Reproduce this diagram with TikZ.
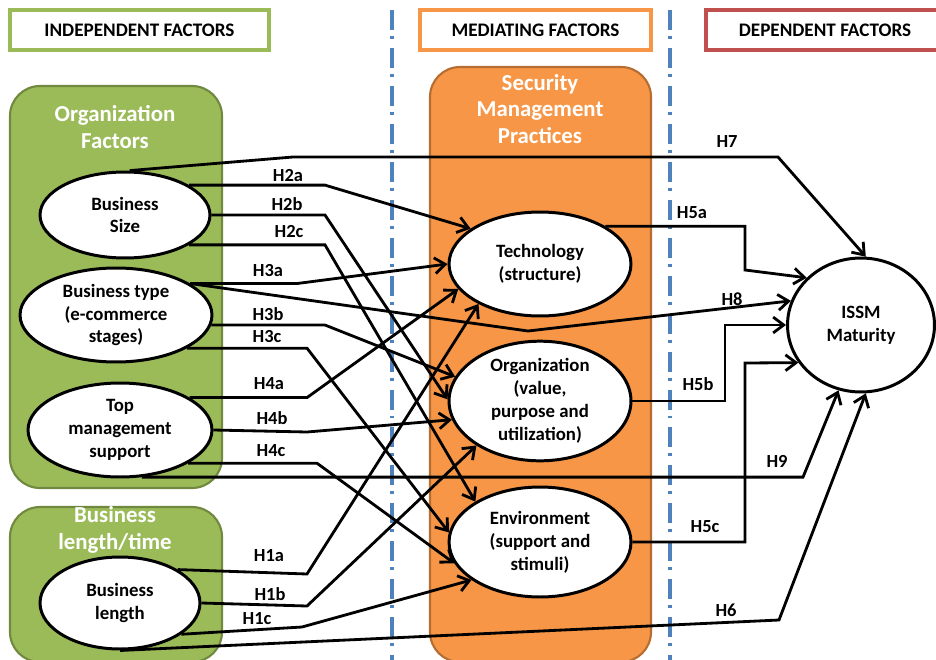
\documentclass[tikz,border=0pt]{standalone}
\usepackage{fontspec}
\setmainfont{Carlito}
\usetikzlibrary{arrows.meta,shapes.geometric}
\definecolor{grpgreen}{HTML}{9BBB59}
\definecolor{grpgreenedge}{HTML}{71893F}
\definecolor{grporange}{HTML}{F79646}
\definecolor{grporangeedge}{HTML}{B66D31}
\definecolor{hdrred}{HTML}{C0504D}
\definecolor{sepblue}{HTML}{4F81BD}

\begin{document}
\begin{tikzpicture}[x=0.02cm,y=-0.02cm,
  header/.style={draw=#1, line width=1.8pt, fill=white, minimum height=0.8cm, inner sep=0pt,
    font=\fontsize{10.9pt}{12pt}\selectfont\bfseries},
  greenbox/.style={fill=grpgreen, draw=grpgreenedge, line width=1.2pt, rounded corners=0.6cm},
  orangebox/.style={fill=grporange, draw=grporangeedge, line width=1.2pt, rounded corners=0.6cm},
  grouptitle/.style={text=white, align=center, font=\fontsize{13pt}{15pt}\selectfont\bfseries},
  factor/.style={ellipse, draw, line width=1.7pt, fill=white, inner sep=0pt, align=center,
    font=\fontsize{10.7pt}{13pt}\selectfont\bfseries},
  link/.style={line width=1.6pt, -{Straight Barb[length=6pt,width=9pt]}},
  hyp/.style={font=\fontsize{10.5pt}{12pt}\selectfont\bfseries},
  divider/.style={sepblue, line width=2pt, dash pattern=on 11.4pt off 3.4pt on 1.7pt off 5.1pt}
]
\useasboundingbox (0,0) rectangle (936,659);
\fill[white] (0,0) rectangle (936,659);

% column dividers
\coordinate (d1top) at (392,10); \coordinate (d1bot) at (392,662);
\coordinate (d2top) at (670,10); \coordinate (d2bot) at (670,662);
\draw[divider] (d1top) -- (d1bot);
\draw[divider] (d2top) -- (d2bot);

% column headers
\node[header=grpgreen, minimum width=5.18cm] (hind) at (139.5,30) {INDEPENDENT FACTORS};
\node[header=grporange, minimum width=4.62cm] (hmed) at (535.5,30) {MEDIATING FACTORS};
\node[header=hdrred, minimum width=4.76cm] (hdep) at (825,30) {DEPENDENT FACTORS};

% group panels
\path[greenbox] (10,86) rectangle (222,488);
\path[greenbox] (10,507) rectangle (222,662);
\path[orangebox] (430,67) rectangle (651,662);
\node[grouptitle] (torg) at (115,127) {Organization\\Factors};
\node[grouptitle] (tlen) at (115,530) {Business\\length/time};
\node[grouptitle] (tsec) at (540,109) {Security\\Management\\Practices};

% factors
\node[factor, minimum width=3.4cm, minimum height=1.72cm] (size) at (125,215) {Business\\Size};
\node[factor, minimum width=3.84cm, minimum height=1.88cm] (type) at (116,315) {Business type\\(e-commerce\\stages)};
\node[factor, minimum width=3.68cm, minimum height=1.88cm] (tm) at (120,430) {Top\\management\\support};
\node[factor, minimum width=3.2cm, minimum height=1.84cm] (len) at (120,603) {Business\\length};
\node[factor, minimum width=3.64cm, minimum height=2.08cm] (tech) at (540,264) {Technology\\(structure)};
\node[factor, minimum width=3.64cm, minimum height=2.28cm] (org) at (540,401) {Organization\\(value,\\purpose and\\utilization)};
\node[factor, minimum width=3.64cm, minimum height=2.2cm] (env) at (540,542) {Environment\\(support and\\stimuli)};
\node[factor, minimum width=2.94cm, minimum height=2.68cm] (issm) at (861,325) {ISSM\\Maturity};

% bend points
\coordinate (b297) at (297,0);
\coordinate (b307) at (307,0);
\coordinate (b317) at (317,0);
\coordinate (b325) at (325,0);
\coordinate (h7a) at (293,157);
\coordinate (h7b) at (778,157);
\coordinate (h8) at (528,331);
\coordinate (k4b) at (307,432);
\coordinate (h9) at (803,0);
\coordinate (k1a) at (307,574);
\coordinate (k1b) at (307,606);
\coordinate (k1c) at (302,627);
\coordinate (k6) at (779,620);
\coordinate (h5a) at (745,270);
\coordinate (h5b) at (725,0);
\coordinate (h5c) at (745,363);

% hypotheses
\draw[link] (size.84) -- (h7a) -- (h7b) -- (issm.86);
\draw[link] (size.25) -- (size.25 -| b325) -- (tech.153);
\draw[link] (size.east) -- (size.east -| b325) -- (org.179);
\draw[link] (size.335) -- (size.335 -| b325) -- (env.148);
\draw[link] (type.23) -- (type.23 -| b297) -- (tech.180);
\draw[link] (type.23) -- (h8) -- (issm.161);
\draw[link] (type.354) -- (type.354 -| b325) -- (org.164);
\draw[link] (type.335) -- (type.335 -| b307) -- (env.174);
\draw[link] (tm.25) -- (tm.25 -| b307) -- (tech.197);
\draw[link] (tm.east) -- (k4b) -- (org.192);
\draw[link] (tm.334) -- (tm.334 -| b317) -- (env.194);
\draw[link] (tm.295) -- (tm.295 -| h9) -- (issm.251);
\draw[link] (len.30) -- (k1a) -- (tech.213);
\draw[link] (len.east) -- (k1b) -- (org.215);
\draw[link] (len.333) -- (k1c) -- (env.209);
\draw[link] (len.south) -- (k6) -- (issm.274);
\draw[link] (tech.30) -- (tech.30 -| h5a) -- (h5a) -- (issm.139);
\draw[link] (org.east) -- (org.east -| h5b) |- (issm.180);
\draw[link] (env.east) -- (env.east -| h5c) -- (h5c) -- (issm.211);

% hypothesis labels
\node[hyp] (l7) at (727,142) {H7};
\node[hyp] (l2a) at (288,176) {H2a};
\node[hyp] (l2b) at (287,204) {H2b};
\node[hyp] (l2c) at (289,232) {H2c};
\node[hyp] (l3a) at (268,271) {H3a};
\node[hyp] (l3b) at (268,314) {H3b};
\node[hyp] (l3c) at (267,337) {H3c};
\node[hyp] (l4a) at (269,384) {H4a};
\node[hyp] (l4b) at (272,418) {H4b};
\node[hyp] (l4c) at (271,451) {H4c};
\node[hyp] (l1a) at (269,556) {H1a};
\node[hyp] (l1b) at (270,594) {H1b};
\node[hyp] (l1c) at (257,619) {H1c};
\node[hyp] (l5a) at (692,213) {H5a};
\node[hyp] (l5b) at (698,384) {H5b};
\node[hyp] (l5c) at (705,527) {H5c};
\node[hyp] (l8) at (732,299) {H8};
\node[hyp] (l9) at (777,461) {H9};
\node[hyp] (l6) at (726,610) {H6};
\end{tikzpicture}
\end{document}
